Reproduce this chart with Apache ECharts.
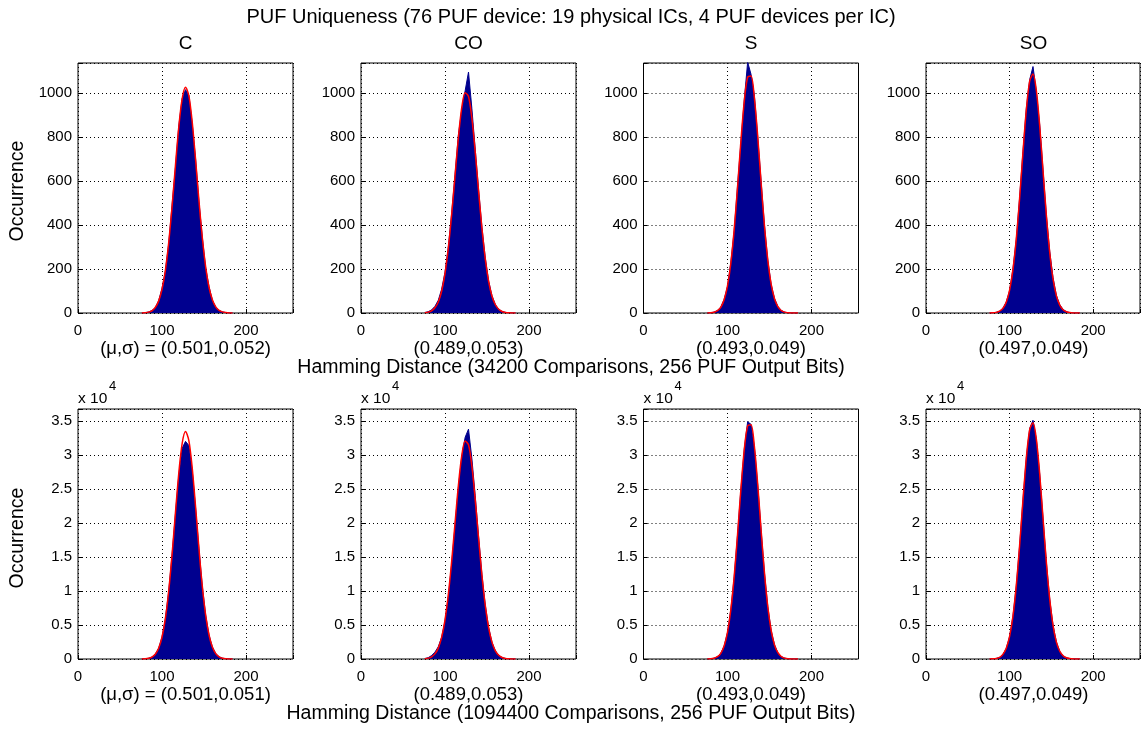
<!DOCTYPE html>
<html>
<head>
<meta charset="utf-8">
<script src="https://cdn.jsdelivr.net/npm/echarts@6/dist/echarts.min.js"></script>
<style>html,body{margin:0;padding:0;background:#fff}#c{width:1143px;height:730px}</style>
</head>
<body>
<div id="c"></div>
<script>
// Hamming distance sample positions (bin centres)
const XS = [76,80,84,88,92,96,100,104,108,112,116,120,124,128,132,136,140,144,148,152,156,160,164,168,172,176,180,184];

const PANEL_NAMES = ['C', 'CO', 'S', 'SO'];
const TOP_STATS = ['(\u03bc,\u03c3) = (0.501,0.052)', '(0.489,0.053)', '(0.493,0.049)', '(0.497,0.049)'];
const BOT_STATS = ['(\u03bc,\u03c3) = (0.501,0.051)', '(0.489,0.053)', '(0.493,0.049)', '(0.497,0.049)'];
const X_TICKS = [0, 100, 200];
const TOP_Y_TICKS = [0, 200, 400, 600, 800, 1000];
const BOT_Y_TICKS = [0, 0.5, 1, 1.5, 2, 2.5, 3, 3.5];

// Top row (34200 comparisons): histogram counts and fitted curve
const C_top_hist  = [0,1,5,11,24,56,112,190,315,490,660,850,975,1015,990,860,700,505,345,205,120,58,27,12,5,2,0,0];
const C_top_fit   = [0.4,1.4,4,10,25,54,107,193,320,484,669,845,973,1026,987,868,697,511,343,210,117,60,28,12,5,2,0.5,0];
const CO_top_hist = [2,6,14,30,58,108,185,300,455,630,810,925,1010,1095,930,745,560,390,250,145,78,38,17,7,3,1,0,0];
const CO_top_fit  = [1.4,4,10,23.5,50,99,179,297,450,626,799,934,1001,984,886,732,554,385,245,143,76,37.5,17,7,2.6,1,0.3,0];
const S_top_hist  = [0,1,4,11,27,62,120,230,375,580,775,970,1140,1085,990,800,600,400,240,130,66,30,12,4,1,0,0,0];
const S_top_fit   = [0.4,1.2,3.8,10.5,26,60,123,227,380,573,782,963,1071,1077,978,802,594,397,240,131,65,29,11.5,4,1.4,0.4,0.1,0];
const SO_top_hist = [0,1,3,8,22,50,102,200,335,525,735,930,1060,1120,1005,855,650,445,280,160,80,38,16,6,2,0,0,0];
const SO_top_fit  = [0.3,0.9,2.9,8.2,21,49,104,197,337,522,730,923,1053,1086,1011,851,646,443,275,154,78,36,15,5.5,1.8,0.5,0.15,0];

// Bottom row (1094400 comparisons)
const C_bot_hist  = [10,35,110,290,710,1580,3200,5900,9950,15300,21300,27000,31000,32000,31400,27700,22200,16200,10700,6450,3530,1760,800,330,125,42,13,0];
const C_bot_fit   = [11,36,106,287,702,1571,3197,5929,9992,15350,21460,27320,31680,33440,32120,28110,22390,16240,10720,6444,3529,1758,797,329,124,42,13,0];
const CO_bot_hist = [60,200,500,1000,1800,3200,5600,9200,14000,19700,25300,29800,32600,33800,29500,24000,18000,12400,7900,4600,2460,1200,540,220,84,29,9,0];
const CO_bot_fit  = [45,125,320,752,1600,3170,5730,9500,14410,20040,25570,29890,32050,31500,28380,23440,17750,12320,7840,4580,2450,1200,540,220,84,29,9,0];
const S_bot_hist  = [13,36,120,335,840,1910,3900,7250,12100,18300,25000,30900,34900,34500,31200,25600,19000,12700,7700,4200,2080,920,370,134,44,13,4,0];
const S_bot_fit   = [13,36,121,336,842,1920,3920,7260,12150,18340,25010,30810,34280,34450,31280,25650,19000,12710,7680,4190,2070,920,370,134,44,13,4,0];
const SO_bot_hist = [8,27,85,240,670,1570,3300,6280,10750,16700,23400,29600,33900,35100,32300,27200,20700,14200,8800,4930,2500,1140,470,174,59,18,5,0];
const SO_bot_fit  = [8,27,85,242,675,1576,3314,6287,10780,16700,23360,29520,33700,34740,32340,27220,20680,14190,8800,4920,2490,1140,470,174,59,18,5,0];

const TOP_HIST = [C_top_hist, CO_top_hist, S_top_hist, SO_top_hist];
const TOP_FIT  = [C_top_fit, CO_top_fit, S_top_fit, SO_top_fit];
const BOT_HIST = [C_bot_hist, CO_bot_hist, S_bot_hist, SO_bot_hist];
const BOT_FIT  = [C_bot_fit, CO_bot_fit, S_bot_fit, SO_bot_fit];

const FONT = 'Liberation Sans';
const NAVY = '#00008f';
const LEFTS = [78, 361, 643.5, 926];
const PW = 215, PH = 250;
const TOPS = [63, 409];

const grids = [], xAxes = [], yAxes = [], series = [], graphics = [];
const dotted = {show: true, lineStyle: {color: '#000', width: 1, type: [1, 3]}};

function pairs(arr) { return XS.map((x, i) => [x, arr[i]]); }

for (let r = 0; r < 2; r++) {
  for (let c = 0; c < 4; c++) {
    const idx = grids.length;
    grids.push({left: LEFTS[c], top: TOPS[r], width: PW, height: PH, show: true,
      borderColor: '#000', borderWidth: 1, backgroundColor: 'transparent'});
    xAxes.push({type: 'value', gridIndex: idx, min: 0, max: 256, interval: 100,
      axisLine: {show: false}, axisTick: {show: true, inside: true, length: 4, lineStyle: {color: '#000'}},
      splitLine: dotted,
      axisLabel: {color: '#000', fontFamily: FONT, fontSize: 15, margin: 10,
        formatter: v => X_TICKS.indexOf(v) >= 0 ? String(v) : ''}});
    if (r === 0) {
      yAxes.push({type: 'value', gridIndex: idx, min: 0, max: 1136, interval: 200,
        axisLine: {show: false}, axisTick: {show: true, inside: true, length: 4, lineStyle: {color: '#000'}},
        splitLine: dotted,
        axisLabel: {color: '#000', fontFamily: FONT, fontSize: 15, margin: 6,
          formatter: v => TOP_Y_TICKS.indexOf(v) >= 0 ? String(v) : ''}});
    } else {
      yAxes.push({type: 'value', gridIndex: idx, min: 0, max: 36760, interval: 5000,
        axisLine: {show: false}, axisTick: {show: true, inside: true, length: 4, lineStyle: {color: '#000'}},
        splitLine: dotted,
        axisLabel: {color: '#000', fontFamily: FONT, fontSize: 15, margin: 6,
          formatter: v => { const t = Math.round(v / 1000) / 10; return BOT_Y_TICKS.indexOf(t) >= 0 && v % 5000 === 0 ? String(t) : ''; }}});
    }
    const hist = r === 0 ? TOP_HIST[c] : BOT_HIST[c];
    const fit = r === 0 ? TOP_FIT[c] : BOT_FIT[c];
    series.push({type: 'line', xAxisIndex: idx, yAxisIndex: idx, data: pairs(hist),
      showSymbol: false, symbol: 'none', lineStyle: {color: NAVY, width: 1},
      areaStyle: {color: NAVY, opacity: 1}, z: 2, silent: true, animation: false});
    series.push({type: 'line', xAxisIndex: idx, yAxisIndex: idx, data: pairs(fit),
      showSymbol: false, symbol: 'none', smooth: 0.3, lineStyle: {color: '#ff0000', width: 1.5},
      z: 3, silent: true, animation: false});

    const cx = LEFTS[c] + PW / 2;
    if (r === 0) {
      graphics.push({type: 'text', x: cx, y: 44, style: {text: PANEL_NAMES[c], font: '19px ' + FONT, fill: '#000', textAlign: 'center', textVerticalAlign: 'middle'}});
      graphics.push({type: 'text', x: cx, y: 349, style: {text: TOP_STATS[c], font: '18.5px ' + FONT, fill: '#000', textAlign: 'center', textVerticalAlign: 'middle'}});
    } else {
      graphics.push({type: 'text', x: cx, y: 695, style: {text: BOT_STATS[c], font: '18.5px ' + FONT, fill: '#000', textAlign: 'center', textVerticalAlign: 'middle'}});
      graphics.push({type: 'text', x: LEFTS[c], y: 399, style: {text: 'x 10', font: '15.5px ' + FONT, fill: '#000', textAlign: 'left', textVerticalAlign: 'middle'}});
      graphics.push({type: 'text', x: LEFTS[c] + 31, y: 386, style: {text: '4', font: '13px ' + FONT, fill: '#000', textAlign: 'left', textVerticalAlign: 'middle'}});
    }
  }
}

graphics.push({type: 'text', x: 571, y: 17, style: {text: 'PUF Uniqueness (76 PUF device: 19 physical ICs, 4 PUF devices per IC)', font: '20px ' + FONT, fill: '#000', textAlign: 'center', textVerticalAlign: 'middle'}});
graphics.push({type: 'text', x: 571, y: 368, style: {text: 'Hamming Distance (34200 Comparisons, 256 PUF Output Bits)', font: '19.5px ' + FONT, fill: '#000', textAlign: 'center', textVerticalAlign: 'middle'}});
graphics.push({type: 'text', x: 571, y: 714, style: {text: 'Hamming Distance (1094400 Comparisons, 256 PUF Output Bits)', font: '19.5px ' + FONT, fill: '#000', textAlign: 'center', textVerticalAlign: 'middle'}});
graphics.push({type: 'text', x: 18, y: 191, rotation: Math.PI / 2, style: {text: 'Occurrence', font: '19.5px ' + FONT, fill: '#000', textAlign: 'center', textVerticalAlign: 'middle'}});
graphics.push({type: 'text', x: 18, y: 538, rotation: Math.PI / 2, style: {text: 'Occurrence', font: '19.5px ' + FONT, fill: '#000', textAlign: 'center', textVerticalAlign: 'middle'}});

const chart = echarts.init(document.getElementById('c'), null, {renderer: 'canvas'});
chart.setOption({
  animation: false,
  backgroundColor: '#fff',
  grid: grids, xAxis: xAxes, yAxis: yAxes, series: series, graphic: graphics
});
</script>
</body>
</html>
